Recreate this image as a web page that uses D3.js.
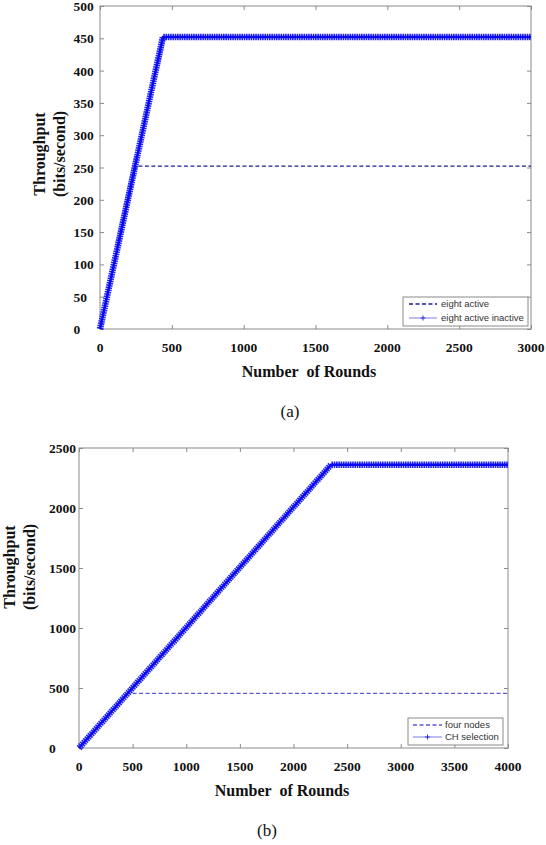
<!DOCTYPE html>
<html>
<head>
<meta charset="utf-8">
<script src="https://cdn.jsdelivr.net/npm/d3@7"></script>
<style>
  body { margin: 0; background: #fff; }
  svg { display: block; }
</style>
</head>
<body>
<svg id="fig" width="546" height="845"></svg>
<script>
// panel (a)
const roundsA = [0, 252, 3000];
const eightActive = [0, 252, 252];
const roundsA2 = [0, 438, 3000];
const eightActiveInactive = [0, 452, 452];
const xTicksA = [0, 500, 1000, 1500, 2000, 2500, 3000];
const yTicksA = [0, 50, 100, 150, 200, 250, 300, 350, 400, 450, 500];

// panel (b)
const roundsB = [0, 455, 4000];
const fourNodes = [0, 455, 455];
const roundsB2 = [0, 2350, 4000];
const chSelection = [0, 2360, 2360];
const xTicksB = [0, 500, 1000, 1500, 2000, 2500, 3000, 3500, 4000];
const yTicksB = [0, 500, 1000, 1500, 2000, 2500];

const svg = d3.select("#fig");
const serif = "'Liberation Serif', 'Times New Roman', serif";
const sans = "'Liberation Sans', Arial, sans-serif";
const axisGrey = "#8a8a8a";
const markerBlue = "#0a0af2";

function drawPanel(p) {
  const x = d3.scaleLinear().domain([0, d3.max(p.xTicks)]).range([p.left, p.right]);
  const y = d3.scaleLinear().domain([0, d3.max(p.yTicks)]).range([p.bottom, p.top]);
  const g = svg.append("g");

  // box
  g.append("rect")
    .attr("x", p.left).attr("y", p.top)
    .attr("width", p.right - p.left).attr("height", p.bottom - p.top)
    .attr("fill", "none").attr("stroke", axisGrey).attr("stroke-width", 1);

  // inward ticks on all four sides
  const tickAxes = [
    [d3.axisBottom(x), `translate(0,${p.bottom})`],
    [d3.axisTop(x), `translate(0,${p.top})`],
    [d3.axisLeft(y), `translate(${p.left},0)`],
    [d3.axisRight(y), `translate(${p.right},0)`],
  ];
  tickAxes.forEach(([ax, tr], i) => {
    const vals = i < 2 ? p.xTicks : p.yTicks;
    const a = g.append("g").attr("transform", tr)
      .call(ax.tickValues(vals).tickSizeInner(-4).tickSizeOuter(0).tickFormat(""));
    a.select(".domain").remove();
    a.selectAll("line").attr("stroke", axisGrey);
  });

  // tick labels
  g.selectAll(".xl").data(p.xTicks).enter().append("text")
    .attr("x", d => x(d)).attr("y", p.bottom + 23)
    .attr("text-anchor", "middle")
    .attr("font-family", serif).attr("font-weight", "bold").attr("font-size", 13.5)
    .attr("fill", "#111")
    .text(d => d);
  g.selectAll(".yl").data(p.yTicks).enter().append("text")
    .attr("x", p.yLabelX).attr("y", d => y(d) + 5)
    .attr("text-anchor", "start")
    .attr("font-family", serif).attr("font-weight", "bold").attr("font-size", 13.5)
    .attr("fill", "#111")
    .text(d => d);

  // axis titles
  g.append("text")
    .attr("x", p.xTitleX).attr("y", p.bottom + 48)
    .attr("text-anchor", "middle")
    .attr("font-family", serif).attr("font-weight", "bold").attr("font-size", 16)
    .attr("fill", "#111")
    .attr("xml:space", "preserve")
    .text("Number  of Rounds");
  [["Throughput", p.yTitleX1], ["(bits/second)", p.yTitleX2]].forEach(([t, tx]) => {
    g.append("text")
      .attr("transform", `translate(${tx},${p.yTitleY}) rotate(-90)`)
      .attr("text-anchor", "middle").attr("dominant-baseline", "central")
      .attr("font-family", serif).attr("font-weight", "bold").attr("font-size", 16)
      .attr("fill", "#111")
      .text(t);
  });

  // caption
  g.append("text")
    .attr("x", p.capX).attr("y", p.bottom + 88)
    .attr("text-anchor", "middle")
    .attr("font-family", serif).attr("font-size", 17)
    .attr("fill", "#111")
    .text(p.caption);

  const line = d3.line().x(d => x(d[0])).y(d => y(d[1]));

  // dashed series
  g.append("path")
    .datum(d3.zip(p.dashX, p.dashY))
    .attr("d", line)
    .attr("fill", "none").attr("stroke", p.dashColor)
    .attr("stroke-width", 1.3).attr("stroke-dasharray", "4 2.5");

  // series drawn with '+' markers: thin line plus dense perpendicular ticks
  const mk = d3.zip(p.markX, p.markY);
  g.append("path").datum(mk).attr("d", line)
    .attr("fill", "none").attr("stroke", markerBlue)
    .attr("stroke-width", 6.5).attr("stroke-dasharray", "1.6 0.7")
    .attr("opacity", 0.9);
  g.append("path").datum(mk).attr("d", line)
    .attr("fill", "none").attr("stroke", markerBlue)
    .attr("stroke-width", 2.5);

  // legend
  const L = p.legend;
  const lg = g.append("g");
  lg.append("rect")
    .attr("x", L.x0).attr("y", L.y0)
    .attr("width", L.x1 - L.x0).attr("height", L.y1 - L.y0)
    .attr("fill", "#fff").attr("stroke", axisGrey).attr("stroke-width", 1);
  lg.append("line")
    .attr("x1", L.sx0).attr("x2", L.sx1).attr("y1", L.rows[0]).attr("y2", L.rows[0])
    .attr("stroke", p.dashColor).attr("stroke-width", 1.3).attr("stroke-dasharray", "4 2.5");
  lg.append("line")
    .attr("x1", L.sx0).attr("x2", L.sx1).attr("y1", L.rows[1]).attr("y2", L.rows[1])
    .attr("stroke", "#5a5ae6").attr("stroke-width", 0.8);
  const cx = (L.sx0 + L.sx1) / 2;
  lg.append("path")
    .attr("d", `M${cx - 2.5},${L.rows[1]}H${cx + 2.5}M${cx},${L.rows[1] - 2.5}V${L.rows[1] + 2.5}`)
    .attr("stroke", "#3030e0").attr("stroke-width", 1);
  p.labels.forEach((t, i) => {
    lg.append("text")
      .attr("x", L.tx).attr("y", L.rows[i] + 3.3)
      .attr("font-family", sans).attr("font-size", 9.5)
      .attr("fill", "#333")
      .text(t);
  });
}

drawPanel({
  left: 100, right: 531, top: 6, bottom: 329,
  xTicks: xTicksA, yTicks: yTicksA,
  yLabelX: 73.5, xTitleX: 309, capX: 290,
  yTitleX1: 39, yTitleX2: 59, yTitleY: 154,
  caption: "(a)",
  dashX: roundsA, dashY: eightActive, dashColor: "#1e1e96",
  markX: roundsA2, markY: eightActiveInactive,
  labels: ["eight active", "eight active inactive"],
  legend: { x0: 403, x1: 528, y0: 297, y1: 326, rows: [304, 318], sx0: 409, sx1: 437, tx: 441 },
});

drawPanel({
  left: 79, right: 508, top: 448, bottom: 748,
  xTicks: xTicksB, yTicks: yTicksB,
  yLabelX: 49, xTitleX: 282, capX: 267,
  yTitleX1: 9.5, yTitleX2: 29, yTitleY: 567,
  caption: "(b)",
  dashX: roundsB, dashY: fourNodes, dashColor: "#5a5ad8",
  markX: roundsB2, markY: chSelection,
  labels: ["four nodes", "CH selection"],
  legend: { x0: 408, x1: 503, y0: 718, y1: 745, rows: [725, 737], sx0: 413, sx1: 442, tx: 445 },
});
</script>
</body>
</html>
